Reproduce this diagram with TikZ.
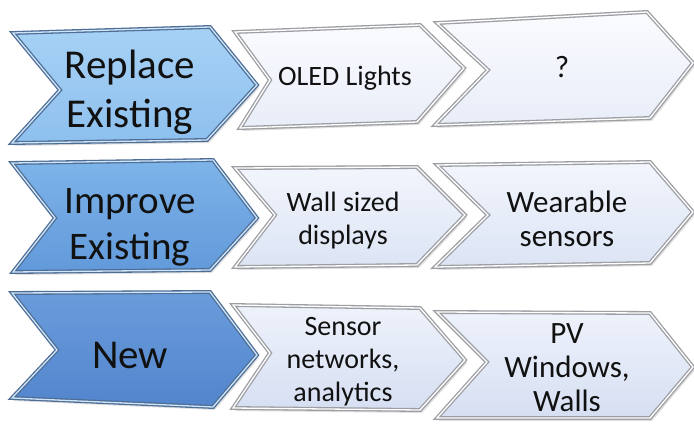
\documentclass[tikz,border=0pt]{standalone}
\usepackage{fontspec}
\setmainfont{Carlito}
\definecolor{txt}{HTML}{111111}
\definecolor{edgeGray}{HTML}{9C9EA3}
\definecolor{edgeBlue}{HTML}{4E6E96}
\definecolor{blueHi}{HTML}{CFE5F9}
\definecolor{blueA1}{HTML}{A6D1F5}\definecolor{blueA2}{HTML}{8EC0EE}
\definecolor{blueB1}{HTML}{7DB4E9}\definecolor{blueB2}{HTML}{6299DA}
\definecolor{blueC1}{HTML}{6A9CDC}\definecolor{blueC2}{HTML}{5285CC}
\definecolor{paleA1}{HTML}{FAFBFE}\definecolor{paleA2}{HTML}{E8EDF8}
\definecolor{paleB1}{HTML}{F2F5FC}\definecolor{paleB2}{HTML}{DCE4F4}
\definecolor{paleC1}{HTML}{EEF2FB}\definecolor{paleC2}{HTML}{D6DFF2}
\tikzset{
  chevshadow/.style={fill=black, opacity=0.12},
  bevel/.style={line width=1.3pt, double distance=1.3pt, line join=miter},
  bluechev/.style={bevel, draw=edgeBlue, double=blueHi},
  palechev/.style={bevel, draw=edgeGray, double=white},
  bigtext/.style={text=txt, align=center, font=\fontsize{41}{49}\selectfont},
  smalltext/.style={text=txt, align=center, font=\fontsize{28}{33}\selectfont},
  midtext/.style={text=txt, align=center, font=\fontsize{31}{34}\selectfont},
}
% #1 style, #2 top colour, #3 bottom colour, #4..#9 corners:
% top-left, top-right, tip, bottom-right, bottom-left, notch
\newcommand{\chevronshape}[9]{%
  \fill[chevshadow] ([shift={(2,3)}]#4) -- ([shift={(2,3)}]#5) -- ([shift={(2,3)}]#6)
    -- ([shift={(2,3)}]#7) -- ([shift={(2,3)}]#8) -- ([shift={(2,3)}]#9) -- cycle;
  \shadedraw[#1, top color=#2, bottom color=#3] (#4) -- (#5) -- (#6) -- (#7) -- (#8) -- (#9) -- cycle;
}
\begin{document}
\begin{tikzpicture}[x=1pt,y=-1pt]
\useasboundingbox[fill=white] (0,0) rectangle (694,424);

% row 1
\chevronshape{palechev}{paleA1}{paleA2}{437,23}{647,12}{693,63}{650,118}{435,125}{488,70}
\chevronshape{palechev}{paleA1}{paleA2}{235,32}{420,25}{464,68}{417,122}{240,128}{270,80}
\chevronshape{bluechev}{blueA1}{blueA2}{13,33}{210,27}{257,85}{207,140}{12,143}{60,90}
% row 2
\chevronshape{palechev}{paleB1}{paleB2}{437,165}{650,162}{693,212}{650,263}{435,267}{488,215}
\chevronshape{palechev}{paleB1}{paleB2}{235,168}{417,167}{465,215}{417,265}{235,267}{275,215}
\chevronshape{bluechev}{blueB1}{blueB2}{12,163}{213,160}{257,218}{210,270}{13,272}{55,218}
% row 3
\chevronshape{palechev}{paleC1}{paleC2}{437,312}{650,313}{693,367}{650,418}{437,418}{487,362}
\chevronshape{palechev}{paleC1}{paleC2}{233,305}{420,308}{465,360}{420,410}{233,408}{270,353}
\chevronshape{bluechev}{blueC1}{blueC2}{12,293}{210,292}{257,355}{213,407}{12,398}{57,350}

% labels
\node[bigtext] (replace) at (130,92) {Replace\\Existing};
\node[smalltext] (oled) at (345,78) {OLED Lights};
\node[text=txt, font=\fontsize{31}{34}\selectfont] (unknown) at (562,67) {?};
\node[bigtext, font=\fontsize{39}{46}\selectfont] (improve) at (130,227) {Improve\\Existing};
\node[smalltext] (wall) at (343,221) {Wall sized\\displays};
\node[midtext] (wearable) at (567,219) {Wearable\\sensors};
\node[bigtext] (new) at (130,355) {New};
\node[smalltext] (sensor) at (343,362) {Sensor\\networks,\\analytics};
\node[midtext] (pv) at (567,368) {PV\\Windows,\\Walls};
\end{tikzpicture}
\end{document}
